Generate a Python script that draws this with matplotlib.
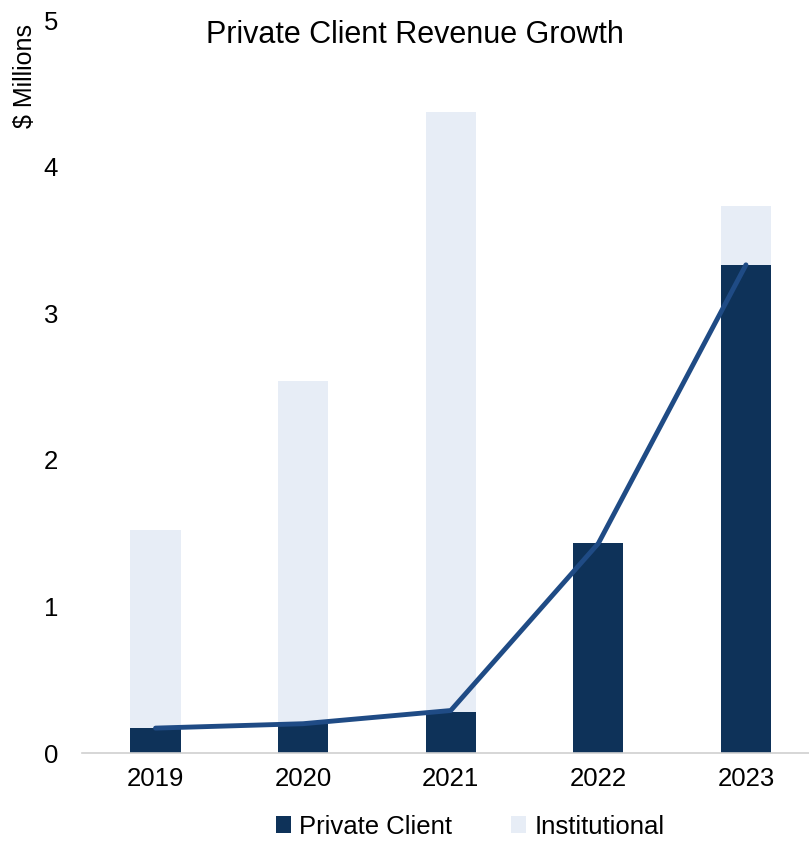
import matplotlib.pyplot as plt
import numpy as np

plt.rcParams['font.family'] = ['Liberation Sans', 'DejaVu Sans']

# data ($ millions)
years = ['2019', '2020', '2021', '2022', '2023']
private_client = [0.17, 0.20, 0.28, 1.43, 3.33]
institutional = [1.52, 2.54, 4.37, 0.15, 3.73]
growth_line = [0.17, 0.20, 0.29, 1.43, 3.33]

dark = '#0e3259'
light = '#e7edf6'
line_col = '#1f4b85'

fig = plt.figure(figsize=(8.09, 8.41), dpi=100)
ax = fig.add_axes([0.101, 0.1046, 0.905, 0.8716])

x = np.arange(len(years))
w = 0.34
ax.bar(x, institutional, width=w, color=light, label='Institutional', zorder=1)
ax.bar(x, private_client, width=w, color=dark, label='Private Client', zorder=2)
ax.plot(x, growth_line, color=line_col, linewidth=3.5, solid_capstyle='round', zorder=3)

ax.set_xlim(-0.5, 4.46)
ax.set_ylim(0, 5)
ax.set_xticks(x)
ax.set_xticklabels(years)
ax.set_yticks(range(6))
ax.tick_params(axis='y', length=0, labelsize=18.5, pad=17)
ax.tick_params(axis='x', length=0, labelsize=18.5, pad=10)
for s in ['top', 'right', 'left']:
    ax.spines[s].set_visible(False)
ax.spines['bottom'].set_color('#d0d0d0')
ax.spines['bottom'].set_linewidth(1.2)

fig.text(0.513, 0.958, 'Private Client Revenue Growth', ha='center', va='center', fontsize=22)
fig.text(0.031, 0.972, '$ Millions', rotation=90, ha='center', va='top', fontsize=18)

handles, labels = ax.get_legend_handles_labels()
fig.legend(handles[::-1], labels[::-1], loc='center', bbox_to_anchor=(0.581, 0.017), ncol=2,
           frameon=False, fontsize=18.5, handlelength=0.6, handleheight=0.6,
           handletextpad=0.3, columnspacing=2.3)

fig.savefig('out.png', dpi=100)
